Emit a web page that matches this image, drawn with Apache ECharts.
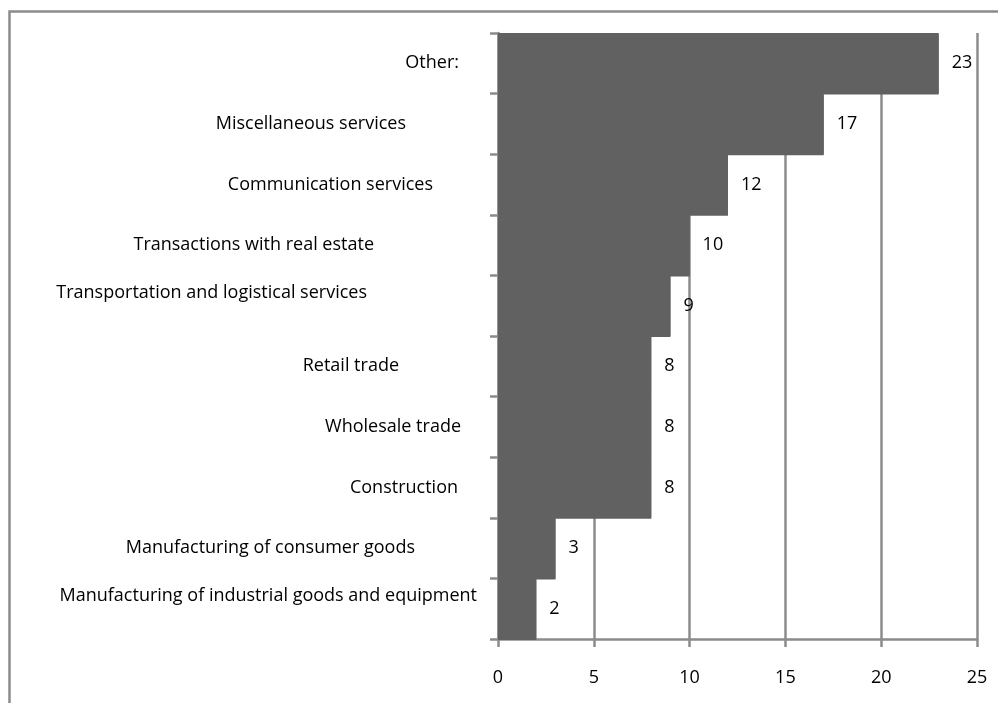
<!DOCTYPE html>
<html>
<head>
<meta charset="utf-8">
<script src="https://cdn.jsdelivr.net/npm/echarts@6/dist/echarts.min.js"></script>
<style>
html,body{margin:0;padding:0;background:#fff;}
#chart{width:998px;height:703px;}
</style>
</head>
<body>
<div id="chart"></div>
<script>
// ---- data ----
var categories = [
  'Other:',
  'Miscellaneous services',
  'Communication services',
  'Transactions with real estate',
  'Transportation and logistical services',
  'Retail trade',
  'Wholesale trade',
  'Construction',
  'Manufacturing of consumer goods',
  'Manufacturing of industrial goods and equipment'
];
var values = [23, 17, 12, 10, 9, 8, 8, 8, 3, 2];
var xTicks = [0, 5, 10, 15, 20, 25];

// ---- styling ----
var FONT = '"Open Sans", sans-serif';
var FS = 18;
var GRAY = '#8c8c8c';
var BAR = '#616161';
// per-label placement (right padding, raised flag) to mimic the original label placement
var labelShift = [
  [39, 0], [92, 0], [65, 0], [124, 0], [131, 1],
  [99, 0], [37, 0], [40, 0], [83, 0], [21, 1]
];

var yData = categories.map(function (c, i) {
  return {
    value: c,
    textStyle: { padding: [0, labelShift[i][0], 0, 0] }
  };
});

var chart = echarts.init(document.getElementById('chart'), null, { renderer: 'canvas' });
chart.setOption({
  animation: false,
  backgroundColor: '#fff',
  textStyle: { fontFamily: FONT },
  graphic: [{
    type: 'rect',
    left: 7, top: 9,
    shape: { width: 1100, height: 800 },
    style: { fill: 'none', stroke: GRAY, lineWidth: 2.5 },
    silent: true, z: -1
  }],
  grid: { left: 498, right: 21, top: 33, bottom: 64, containLabel: false },
  xAxis: {
    type: 'value',
    min: xTicks[0],
    max: xTicks[xTicks.length - 1],
    interval: xTicks[1] - xTicks[0],
    axisLine: { show: true, lineStyle: { color: GRAY, width: 2.5 } },
    axisTick: { show: true, length: 8, lineStyle: { color: GRAY, width: 2.5 } },
    splitLine: { show: true, lineStyle: { color: GRAY, width: 2.5 } },
    axisLabel: { color: '#000', fontSize: FS, fontFamily: FONT, margin: 30, lineHeight: FS }
  },
  yAxis: {
    type: 'category',
    inverse: true,
    data: yData,
    axisLine: { show: true, lineStyle: { color: GRAY, width: 2.5 } },
    axisTick: { show: true, length: 8, lineStyle: { color: GRAY, width: 2.5 } },
    axisLabel: {
      color: '#000', fontSize: FS, fontFamily: FONT, margin: 0, interval: 0, align: 'right',
      formatter: function (v, i) {
        return labelShift[i][1] ? '{sh|' + v + '}\n{sh|}' : v;
      },
      rich: {
        sh: { lineHeight: 25, fontSize: FS, fontFamily: FONT, color: '#000' }
      }
    },
    splitLine: { show: false }
  },
  series: [{
    type: 'bar',
    data: values,
    barCategoryGap: '0%',
    itemStyle: { color: BAR, shadowColor: BAR, shadowBlur: 0, shadowOffsetY: 1 },
    label: {
      show: true, position: 'right', distance: 13,
      color: '#000', fontSize: FS, fontFamily: FONT
    }
  }]
});
</script>
</body>
</html>
